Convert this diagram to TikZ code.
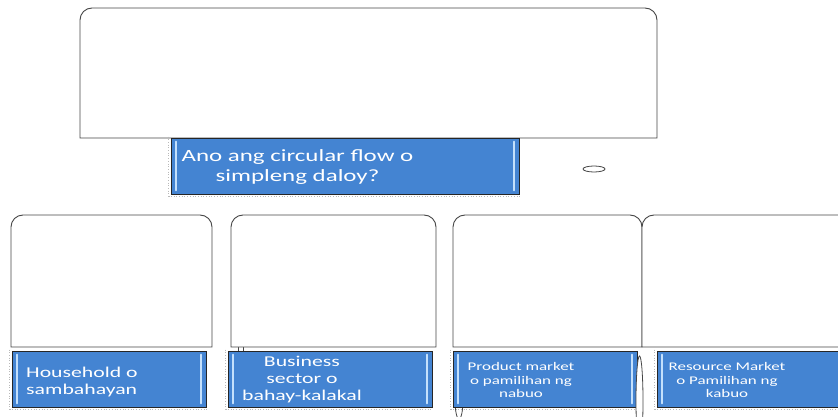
\documentclass[tikz,border=0pt]{standalone}
\usepackage{fontspec}
\setmainfont{Carlito}[FakeStretch=1.45]
\usetikzlibrary{shapes.geometric}
\definecolor{boxblue}{RGB}{68,132,210}
\definecolor{barblue}{RGB}{196,224,252}
\definecolor{edgegray}{RGB}{70,70,70}
\tikzset{
  panel/.style={draw=edgegray, line width=0.9pt, fill=white},
  bluebox/.style={draw=black!85, fill=boxblue, line width=0.8pt, inner sep=0pt, minimum height=56pt},
  lightbar/.style={draw=barblue, line width=2pt, line cap=round},
  shade/.style={draw=gray!55, dotted, line width=0.7pt},
  labeltext/.style={text=white, inner sep=0pt},
  blob/.style={draw=edgegray, fill=white, line width=0.8pt},
}
\begin{document}
\begin{tikzpicture}[x=1pt,y=-1pt]
\useasboundingbox (0,0) rectangle (838,417);
\clip (0,0) rectangle (838,417);

% small tab behind the second panel
\draw[blob] (238,340) rectangle (243,353);

% top panel
\draw[panel] (80,138) -- (80,20) arc[start angle=180,end angle=90,radius=12pt] -- (645,8) arc[start angle=90,end angle=0,radius=12pt] -- (657,138) -- cycle;

% lower panels
\draw[panel] (11,347) -- (11,227) arc[start angle=180,end angle=90,radius=12pt] -- (200,215) arc[start angle=90,end angle=0,radius=12pt] -- (212,347) -- cycle;
\draw[panel] (231,347) -- (231,227) arc[start angle=180,end angle=90,radius=12pt] -- (424,215) arc[start angle=90,end angle=0,radius=12pt] -- (436,347) -- cycle;
\draw[panel] (453,347) -- (453,227) arc[start angle=180,end angle=90,radius=12pt] -- (630,215) arc[start angle=90,end angle=0,radius=12pt] -- (642,347) -- cycle;
\draw[panel] (642,347) -- (642,227) arc[start angle=180,end angle=90,radius=12pt] -- (900,215) -- (900,347) -- cycle;

% small artefacts
\draw[blob] (594,169) ellipse [x radius=11pt, y radius=3pt];
\draw[blob] (459,400) ellipse [x radius=4pt, y radius=19pt];

% title box
\node[bluebox, minimum width=348pt] (q) at (345,166) {};
\draw[shade] ([xshift=-2pt,yshift=1pt]q.north west) -- ([xshift=-2pt,yshift=-2pt]q.south west) -- ([yshift=-2pt]q.south east);
\draw[lightbar] ([xshift=5pt,yshift=-4pt]q.north west) -- ([xshift=5pt,yshift=4pt]q.south west);
\draw[lightbar] ([xshift=-5pt,yshift=-4pt]q.north east) -- ([xshift=-5pt,yshift=4pt]q.south east);
\node[labeltext, align=center, font=\fontsize{17.2}{19.5}\selectfont] (qt) at (297.5,167) {Ano ang circular flow o\\simpleng daloy?};

% label boxes
\node[bluebox, minimum width=194pt] (b1) at (109,379) {};
\node[bluebox, minimum width=204pt] (b2) at (330,379) {};
\node[bluebox, minimum width=184pt] (b3) at (545,379) {};
\node[bluebox, minimum width=203pt] (b4) at (758.5,379) {};
\foreach \b in {b1,b2,b3,b4}{
  \draw[shade] ([xshift=-2pt,yshift=1pt]\b.north west) -- ([xshift=-2pt,yshift=-2pt]\b.south west) -- ([yshift=-2pt]\b.south east);
  \draw[lightbar] ([xshift=5pt,yshift=-4pt]\b.north west) -- ([xshift=5pt,yshift=4pt]\b.south west);
}
\foreach \b in {b1,b2,b3}{
  \draw[lightbar] ([xshift=-5pt,yshift=-4pt]\b.north east) -- ([xshift=-5pt,yshift=4pt]\b.south east);
}
\draw[blob] (639.5,401) ellipse [x radius=3.5pt, y radius=45pt];

\node[labeltext, align=left, anchor=west, font=\fontsize{15}{17}\selectfont] (t1) at (26,382) {Household o\\sambahayan};
\node[labeltext, align=center, font=\fontsize{15}{17}\selectfont] (t2) at (302,380) {Business\\sector o\\bahay-kalakal};
\node[labeltext, align=center, font=\fontsize{11.7}{13.7}\selectfont] (t3) at (521,380) {Product market\\o pamilihan ng\\nabuo};
\node[labeltext, align=center, font=\fontsize{11.7}{13.7}\selectfont] (t4) at (727,380) {Resource Market\\o Pamilihan ng\\kabuo};
\end{tikzpicture}
\end{document}
